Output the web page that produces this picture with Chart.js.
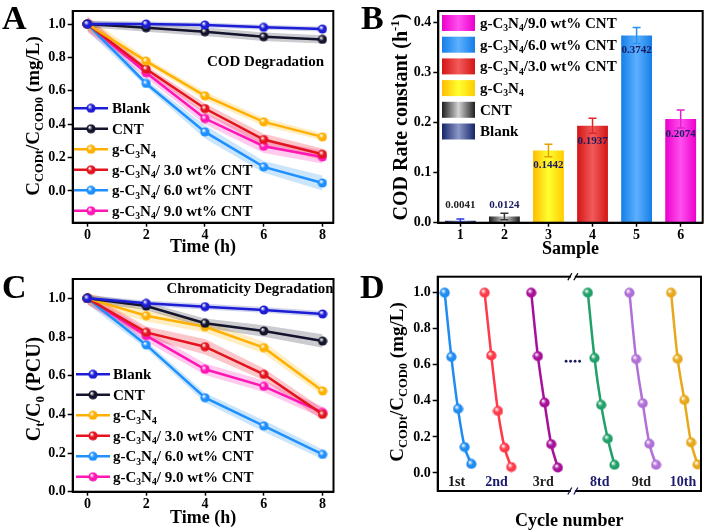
<!DOCTYPE html>
<html><head><meta charset="utf-8">
<script src="https://cdn.jsdelivr.net/npm/chart.js@4.4.1/dist/chart.umd.min.js"></script>
<style>
html,body{margin:0;padding:0;background:#fff;}
#wrap{position:relative;width:709px;height:532px;overflow:hidden;background:#fff;}
canvas{position:absolute;display:block;}
</style></head><body>
<div id="wrap">
<canvas id="cA" width="354" height="266" style="left:0;top:0"></canvas>
<canvas id="cB" width="355" height="266" style="left:354px;top:0"></canvas>
<canvas id="cC" width="354" height="266" style="left:0;top:266px"></canvas>
<canvas id="cD" width="355" height="266" style="left:354px;top:266px"></canvas>
</div>
<script>
// ---------------- DATA ----------------
const timeH = [0, 2, 4, 6, 8];
const seriesNames = ['Blank', 'CNT', 'g-C3N4', 'g-C3N4/ 3.0 wt% CNT', 'g-C3N4/ 6.0 wt% CNT', 'g-C3N4/ 9.0 wt% CNT'];

// Panel A: COD degradation
const codBlank = [1.00, 1.00, 0.994, 0.980, 0.970];
const codCNT   = [1.00, 0.978, 0.954, 0.924, 0.908];
const codG     = [1.00, 0.778, 0.570, 0.414, 0.324];
const cod30    = [1.00, 0.730, 0.494, 0.308, 0.220];
const cod60    = [1.00, 0.644, 0.354, 0.144, 0.048];
const cod90    = [1.00, 0.708, 0.434, 0.268, 0.204];
const codBlankErr = [0.02, 0.015, 0.015, 0.015, 0.015];
const codCNTErr   = [0.02, 0.025, 0.025, 0.025, 0.025];
const codGErr     = [0.04, 0.02, 0.025, 0.025, 0.02];
const cod30Err    = [0.04, 0.02, 0.03, 0.035, 0.035];
const cod60Err    = [0.04, 0.02, 0.04, 0.035, 0.045];
const cod90Err    = [0.05, 0.03, 0.035, 0.04, 0.04];

// Panel B: rate constants
const sampleLabels = ['1', '2', '3', '4', '5', '6'];
const sampleNames = ['Blank', 'CNT', 'g-C3N4', 'g-C3N4/3.0 wt% CNT', 'g-C3N4/6.0 wt% CNT', 'g-C3N4/9.0 wt% CNT'];
const rateK   = [0.0041, 0.0124, 0.1442, 0.1937, 0.3742, 0.2074];
const rateErr = [0.0033, 0.0063, 0.0125, 0.015, 0.016, 0.018];

// Panel C: chromaticity degradation
const chrBlank = [1.00, 0.974, 0.957, 0.940, 0.919];
const chrCNT   = [1.00, 0.960, 0.871, 0.831, 0.779];
const chrG     = [1.00, 0.910, 0.853, 0.745, 0.521];
const chr30    = [1.00, 0.824, 0.750, 0.607, 0.400];
const chr60    = [1.00, 0.759, 0.486, 0.340, 0.193];
const chr90    = [1.00, 0.807, 0.633, 0.545, 0.410];
const chrBlankErr = [0.015, 0.015, 0.015, 0.015, 0.015];
const chrCNTErr   = [0.02, 0.02, 0.025, 0.03, 0.035];
const chrGErr     = [0.03, 0.03, 0.03, 0.03, 0.025];
const chr30Err    = [0.03, 0.03, 0.04, 0.03, 0.03];
const chr60Err    = [0.03, 0.02, 0.025, 0.03, 0.025];
const chr90Err    = [0.03, 0.03, 0.03, 0.03, 0.03];

// Panel D: recycling
const cycleLabels = ['1st', '2nd', '3rd', '8td', '9td', '10th'];
const cycleStart  = [0, 12, 26, 43, 55.5, 68];
const cycleTime   = [0, 2, 4, 6, 8];
const cyc1  = [1.00, 0.644, 0.356, 0.144, 0.050];
const cyc2  = [1.00, 0.652, 0.344, 0.140, 0.033];
const cyc3  = [1.00, 0.648, 0.390, 0.160, 0.030];
const cyc8  = [1.00, 0.638, 0.378, 0.190, 0.045];
const cyc9  = [1.00, 0.632, 0.387, 0.162, 0.045];
const cyc10 = [1.00, 0.633, 0.405, 0.170, 0.047];
const cycErr = [0.04, 0.03, 0.03, 0.03, 0.03];

// Tick labels
const yTicksA = [0.0, 0.2, 0.4, 0.6, 0.8, 1.0];
const xTicksT = [0, 2, 4, 6, 8];
const yTicksB = [0.0, 0.1, 0.2, 0.3, 0.4];
const yTicksC = [0.0, 0.2, 0.4, 0.6, 0.8, 1.0];
const yTicksD = [0.0, 0.2, 0.4, 0.6, 0.8, 1.0];

// ---------------- STYLE ----------------
const FONT = '"Liberation Serif","Times New Roman",serif';
Chart.defaults.font.family = FONT;
Chart.defaults.font.weight = 'bold';
Chart.defaults.font.size = 14;
Chart.defaults.color = '#000';
const lineColors = ['#1d1dd6', '#14142c', '#ffb000', '#e3141e', '#1e90ff', '#ff16b4'];
const bandColors = ['#5060c0', '#404050', '#ffc020', '#f03040', '#40a0f0', '#ff40c0'];
const cycColors = ['#1e8cf0', '#ff3a4a', '#a8109a', '#22a06a', '#b070d8', '#e8a81c'];
const cycLabelColors = ['#111', '#1a1a6e', '#222', '#1a1a6e', '#222', '#1a1a6e'];
const barStops = [
  ['#16246a', '#8a98c8', '#16246a'],
  ['#1e1e1e', '#d4d4d4', '#1e1e1e'],
  ['#ffbc00', '#ffff30', '#ffcc00'],
  ['#d41616', '#f25a5a', '#d41616'],
  ['#167ee8', '#5cb0ff', '#167ee8'],
  ['#ec00cc', '#ff50ee', '#ec00cc']];
const errColors = ['#2a3ae0', '#333333', '#e0a000', '#e02828', '#2a90f0', '#e020c8'];

function rgba(hex, a) {
  const n = parseInt(hex.slice(1), 16);
  return `rgba(${(n >> 16) & 255},${(n >> 8) & 255},${n & 255},${a})`;
}
function ball(color, d) {
  const c = document.createElement('canvas'); c.width = c.height = d;
  const x = c.getContext('2d'); const r = d / 2;
  const g = x.createRadialGradient(r * 0.7, r * 0.65, 0.3, r, r, r);
  g.addColorStop(0, '#ffffff'); g.addColorStop(0.45, color); g.addColorStop(1, color);
  x.fillStyle = g; x.beginPath(); x.arc(r, r, r - 0.4, 0, Math.PI * 2); x.fill();
  return c;
}
function chem(s) {
  const out = []; let buf = '';
  for (let i = 0; i < s.length; i++) {
    const ch = s[i];
    if (/\d/.test(ch) && i > 0 && /[CN]/.test(s[i - 1])) { if (buf) out.push([buf, '']); buf = ''; out.push([ch, 'sub']); }
    else buf += ch;
  }
  if (buf) out.push([buf, '']);
  return out;
}
function drawRich(ctx, segs, x, y, size, align, color, sc) {
  sc = sc || 0.64;
  const parts = segs.map(([t, k]) => { const fs = k ? size * sc : size; ctx.font = `bold ${fs}px ${FONT}`; return { t, k, fs, w: ctx.measureText(t).width }; });
  const total = parts.reduce((a, p) => a + p.w, 0);
  let cx = align === 'center' ? x - total / 2 : x;
  const base = y + size * 0.33;
  ctx.fillStyle = color || '#000'; ctx.textAlign = 'left'; ctx.textBaseline = 'alphabetic';
  for (const p of parts) {
    ctx.font = `bold ${p.fs}px ${FONT}`;
    const dy = p.k === 'sub' ? size * 0.22 : p.k === 'sup' ? -size * 0.38 : 0;
    ctx.fillText(p.t, cx, base + dy); cx += p.w;
  }
}
function vTitle(ctx, segs, x, y, size, sc) {
  ctx.save(); ctx.translate(x, y); ctx.rotate(-Math.PI / 2);
  drawRich(ctx, segs, 0, 0, size, 'center', '#000', sc); ctx.restore();
}
function letter(ctx, L, x, y) {
  ctx.save(); ctx.font = `bold 34px ${FONT}`; ctx.fillStyle = '#000'; ctx.textAlign = 'left'; ctx.textBaseline = 'alphabetic';
  ctx.fillText(L, x, y); ctx.restore();
}
const framePlugin = { id: 'frame', afterDraw(ch) {
  const { ctx, chartArea: a } = ch; ctx.save(); ctx.strokeStyle = '#000'; ctx.lineWidth = 2;
  ctx.strokeRect(a.left, a.top, a.right - a.left, a.bottom - a.top); ctx.restore(); } };

function yScale(min, max, ticks, width) {
  return { type: 'linear', position: 'left', min, max,
    afterBuildTicks: s => { s.ticks = ticks.map(v => ({ value: v })); },
    afterFit: s => { s.width = width; },
    ticks: { color: '#000', font: { size: 14, weight: 'bold' }, padding: 2, callback: v => Number(v).toFixed(1) },
    grid: { display: true, drawOnChartArea: false, drawTicks: true, tickLength: 5, tickWidth: 1.5, tickColor: '#000' },
    border: { display: true, color: '#000', width: 2 } };
}
function xLinear(min, max, ticks, height, title, padB) {
  return { type: 'linear', position: 'bottom', min, max,
    afterBuildTicks: s => { s.ticks = ticks.map(v => ({ value: v })); },
    afterFit: s => { s.height = height; },
    ticks: { color: '#000', font: { size: 14, weight: 'bold' }, padding: 0, callback: v => String(v) },
    grid: { display: true, drawOnChartArea: false, drawTicks: true, tickLength: 4, tickWidth: 1.5, tickColor: '#000' },
    border: { display: true, color: '#000', width: 2 },
    title: { display: true, text: title, color: '#000', font: { size: 18, weight: 'bold' }, padding: { top: 0, bottom: padB } } };
}
const ballsAC = lineColors.map(c => ball(c, 10));

function kineticSets(vals, errs) {
  const sets = [];
  vals.forEach((v, i) => {
    const e = errs[i];
    sets.push({ label: seriesNames[i] + ' low', data: timeH.map((t, j) => ({ x: t, y: v[j] - e[j] })), borderWidth: 0, pointRadius: 0, fill: false, order: 10, borderColor: 'transparent' });
    sets.push({ label: seriesNames[i] + ' high', data: timeH.map((t, j) => ({ x: t, y: v[j] + e[j] })), borderWidth: 0, pointRadius: 0, fill: '-1', backgroundColor: rgba(bandColors[i], 0.27), order: 10, borderColor: 'transparent' });
  });
  vals.forEach((v, i) => {
    sets.push({ label: seriesNames[i], data: timeH.map((t, j) => ({ x: t, y: v[j] })), borderColor: lineColors[i], borderWidth: 2.5, fill: false, pointStyle: ballsAC[i], pointRadius: 5, order: 0 });
  });
  return sets;
}
function drawLineLegend(ctx, x0, x1, tx, y0, dy) {
  seriesNames.forEach((n, i) => {
    const y = y0 + i * dy;
    ctx.save(); ctx.strokeStyle = lineColors[i]; ctx.lineWidth = 2.5;
    ctx.beginPath(); ctx.moveTo(x0, y); ctx.lineTo(x1, y); ctx.stroke();
    ctx.drawImage(ballsAC[i], (x0 + x1) / 2 - 5, y - 5, 10, 10);
    drawRich(ctx, chem(n), tx, y, 15, 'left', '#000', 0.64);
    ctx.restore();
  });
}

// ---------------- PANEL A ----------------
new Chart(document.getElementById('cA'), {
  type: 'line',
  data: { datasets: kineticSets([codBlank, codCNT, codG, cod30, cod60, cod90], [codBlankErr, codCNTErr, codGErr, cod30Err, cod60Err, cod90Err]) },
  options: { responsive: false, animation: false, layout: { padding: { top: 11, right: 20.7, left: 0, bottom: 0 } },
    plugins: { legend: { display: false }, tooltip: { enabled: false } },
    scales: { x: xLinear(-0.5, 8.37, xTicksT, 43.3, 'Time (h)', 8), y: yScale(-0.19, 1.078, yTicksA, 72.7) } },
  plugins: [framePlugin, { id: 'decoA', afterDraw(ch) {
    const ctx = ch.ctx;
    letter(ctx, 'A', 2, 29);
    vTitle(ctx, [['C', ''], ['CODt', 'sub'], ['/C', ''], ['COD0', 'sub'], [' (mg/L)', '']], 33, 116, 19, 0.66);
    ctx.save(); ctx.font = `bold 15px ${FONT}`; ctx.fillStyle = '#000'; ctx.textAlign = 'center'; ctx.textBaseline = 'middle';
    ctx.fillText('COD Degradation', 265.5, 62); ctx.restore();
    drawLineLegend(ctx, 74, 108, 112, 108.3, 20.5);
  } }]
});

// ---------------- PANEL B ----------------
function barGrad(ch, i, x0, x1) {
  const g = ch.ctx.createLinearGradient(x0, 0, x1, 0);
  g.addColorStop(0, barStops[i][0]); g.addColorStop(0.5, barStops[i][1]); g.addColorStop(1, barStops[i][2]);
  return g;
}
new Chart(document.getElementById('cB'), {
  type: 'bar',
  data: { labels: sampleLabels, datasets: [{ label: 'COD Rate constant', data: rateK, barPercentage: 0.7, categoryPercentage: 1.0,
    backgroundColor: (c) => {
      const ch = c.chart; if (!ch.chartArea || !ch.scales.x) return barStops[c.dataIndex][1];
      const xs = ch.scales.x; const cx = xs.getPixelForValue(c.dataIndex); const w = xs.width / sampleLabels.length * 0.7;
      return barGrad(ch, c.dataIndex, cx - w / 2, cx + w / 2);
    } }] },
  options: { responsive: false, animation: false, layout: { padding: { top: 11, right: 6.3, left: 0, bottom: 0 } },
    plugins: { legend: { display: false }, tooltip: { enabled: false } },
    scales: {
      x: { type: 'category', afterFit: s => { s.height = 43.3; },
        ticks: { color: '#000', font: { size: 14, weight: 'bold' }, padding: 0 },
        grid: { display: true, drawOnChartArea: false, drawTicks: true, tickLength: 4, tickWidth: 1.5, tickColor: '#000', offset: false },
        border: { display: true, color: '#000', width: 2 },
        title: { display: true, text: 'Sample', color: '#000', font: { size: 18, weight: 'bold' }, padding: { top: 0, bottom: 6 } } },
      y: yScale(0, 0.4234, yTicksB, 84.3) } },
  plugins: [framePlugin, { id: 'decoB', afterDatasetsDraw(ch) {
    const ctx = ch.ctx; const ys = ch.scales.y; const meta = ch.getDatasetMeta(0);
    meta.data.forEach((bar, i) => {
      const x = bar.x; const yt = ys.getPixelForValue(rateK[i] + rateErr[i]); const yb = ys.getPixelForValue(rateK[i] - rateErr[i]);
      ctx.save(); ctx.strokeStyle = errColors[i]; ctx.lineWidth = 1.5;
      ctx.beginPath(); ctx.moveTo(x, yt); ctx.lineTo(x, yb); ctx.moveTo(x - 4, yt); ctx.lineTo(x + 4, yt); ctx.moveTo(x - 4, yb); ctx.lineTo(x + 4, yb); ctx.stroke();
      ctx.font = `bold 11px ${FONT}`; ctx.textAlign = 'center'; ctx.textBaseline = 'middle';
      ctx.fillStyle = i === 0 ? '#222' : '#1a1a5e';
      const base = ys.getPixelForValue(0); const top = ys.getPixelForValue(rateK[i]);
      const ly = (base - top < 20) ? base - 18 : top + 15;
      ctx.fillText(rateK[i].toFixed(4), x, ly);
      ctx.restore();
    });
  }, afterDraw(ch) {
    const ctx = ch.ctx;
    letter(ctx, 'B', 7, 29);
    vTitle(ctx, [['COD Rate constant (h', ''], ['-1', 'sup'], [')', '']], 46, 117, 20, 0.64);
    for (let k = 0; k < 6; k++) {
      const i = 5 - k; const cy = 23 + k * 21.7;
      ctx.fillStyle = barGrad(ch, i, 88, 121); ctx.fillRect(88, cy - 8, 33, 16);
      drawRich(ctx, chem(sampleNames[i]), 126, cy, 15, 'left', '#000', 0.64);
    }
  } }]
});

// ---------------- PANEL C ----------------
new Chart(document.getElementById('cC'), {
  type: 'line',
  data: { datasets: kineticSets([chrBlank, chrCNT, chrG, chr30, chr60, chr90], [chrBlankErr, chrCNTErr, chrGErr, chr30Err, chr60Err, chr90Err]) },
  options: { responsive: false, animation: false, layout: { padding: { top: 13, right: 20.5, left: 0, bottom: 0 } },
    plugins: { legend: { display: false }, tooltip: { enabled: false } },
    scales: { x: xLinear(-0.5, 8.37, xTicksT, 40.3, 'Time (h)', 3), y: yScale(0, 1.1, yTicksC, 72.7) } },
  plugins: [framePlugin, { id: 'decoC', afterDraw(ch) {
    const ctx = ch.ctx;
    letter(ctx, 'C', 2, 32);
    vTitle(ctx, [['C', ''], ['t', 'sub'], ['/C', ''], ['0', 'sub'], [' (PCU)', '']], 33, 123, 20, 0.64);
    ctx.save(); ctx.font = `bold 14.8px ${FONT}`; ctx.fillStyle = '#000'; ctx.textAlign = 'center'; ctx.textBaseline = 'middle';
    ctx.fillText('Chromaticity Degradation', 250, 23.5); ctx.restore();
    drawLineLegend(ctx, 76, 110, 113, 108.3, 20.5);
  } }]
});

// ---------------- PANEL D ----------------
const cycVals = [cyc1, cyc2, cyc3, cyc8, cyc9, cyc10];
const ballsD = cycColors.map(c => ball(c, 11));
const dSets = [];
cycVals.forEach((v, i) => {
  dSets.push({ label: cycleLabels[i] + ' low', data: cycleTime.map((t, j) => ({ x: cycleStart[i] + t, y: v[j] - cycErr[j] })), borderWidth: 0, pointRadius: 0, fill: false, order: 10, borderColor: 'transparent', cubicInterpolationMode: 'monotone' });
  dSets.push({ label: cycleLabels[i] + ' high', data: cycleTime.map((t, j) => ({ x: cycleStart[i] + t, y: v[j] + cycErr[j] })), borderWidth: 0, pointRadius: 0, fill: '-1', backgroundColor: rgba(cycColors[i], 0.13), order: 10, borderColor: 'transparent', cubicInterpolationMode: 'monotone' });
});
cycVals.forEach((v, i) => {
  dSets.push({ label: cycleLabels[i], data: cycleTime.map((t, j) => ({ x: cycleStart[i] + t, y: v[j] })), borderColor: cycColors[i], borderWidth: 2.5, fill: false, pointStyle: ballsD[i], pointRadius: 5.5, order: 0, cubicInterpolationMode: 'monotone' });
});
new Chart(document.getElementById('cD'), {
  type: 'line',
  data: { datasets: dSets },
  options: { responsive: false, animation: false, layout: { padding: { top: 10.7, right: 6.3, left: 0, bottom: 0 } },
    plugins: { legend: { display: false }, tooltip: { enabled: false } },
    scales: {
      x: { type: 'linear', min: -2.1, max: 77, afterFit: s => { s.height = 41; },
        ticks: { display: false }, grid: { display: false, drawTicks: false },
        border: { display: true, color: '#000', width: 2 },
        title: { display: true, text: 'Cycle number', color: '#000', font: { size: 18, weight: 'bold' }, padding: { top: 0, bottom: 0 } } },
      y: yScale(-0.1, 1.089, yTicksD, 83.7) } },
  plugins: [framePlugin, { id: 'decoD', afterDraw(ch) {
    const ctx = ch.ctx; const xs = ch.scales.x; const ys = ch.scales.y; const a = ch.chartArea;
    letter(ctx, 'D', 6, 32);
    vTitle(ctx, [['C', ''], ['CODt', 'sub'], ['/C', ''], ['COD0', 'sub'], [' (mg/L)', '']], 43, 116, 19, 0.66);
    ctx.save();
    ctx.font = `bold 14px ${FONT}`; ctx.textAlign = 'center'; ctx.textBaseline = 'middle';
    cycleLabels.forEach((l, i) => { ctx.fillStyle = cycLabelColors[i]; ctx.fillText(l, xs.getPixelForValue(cycleStart[i] + 3.6), ys.getPixelForValue(-0.05)); });
    const mid = (cycleStart[2] + cycleTime[4] + cycleStart[3]) / 2;
    const mx = xs.getPixelForValue(mid); const my = ys.getPixelForValue(0.62);
    ctx.fillStyle = '#1a1a5e';
    for (let k = 0; k < 4; k++) { ctx.beginPath(); ctx.arc(mx - 6.75 + k * 4.5, my, 1.4, 0, Math.PI * 2); ctx.fill(); }
    [a.top, a.bottom].forEach((yy, idx) => {
      ctx.fillStyle = '#fff'; ctx.fillRect(mx - 2, yy - 2, 4, 4);
      ctx.strokeStyle = idx ? '#1a1a5e' : '#000'; ctx.lineWidth = 1.3;
      ctx.beginPath(); ctx.moveTo(mx - 5, yy + 3.5); ctx.lineTo(mx - 1, yy - 3.5); ctx.moveTo(mx + 1, yy + 3.5); ctx.lineTo(mx + 5, yy - 3.5); ctx.stroke();
    });
    ctx.restore();
  } }]
});
</script>
</body></html>
